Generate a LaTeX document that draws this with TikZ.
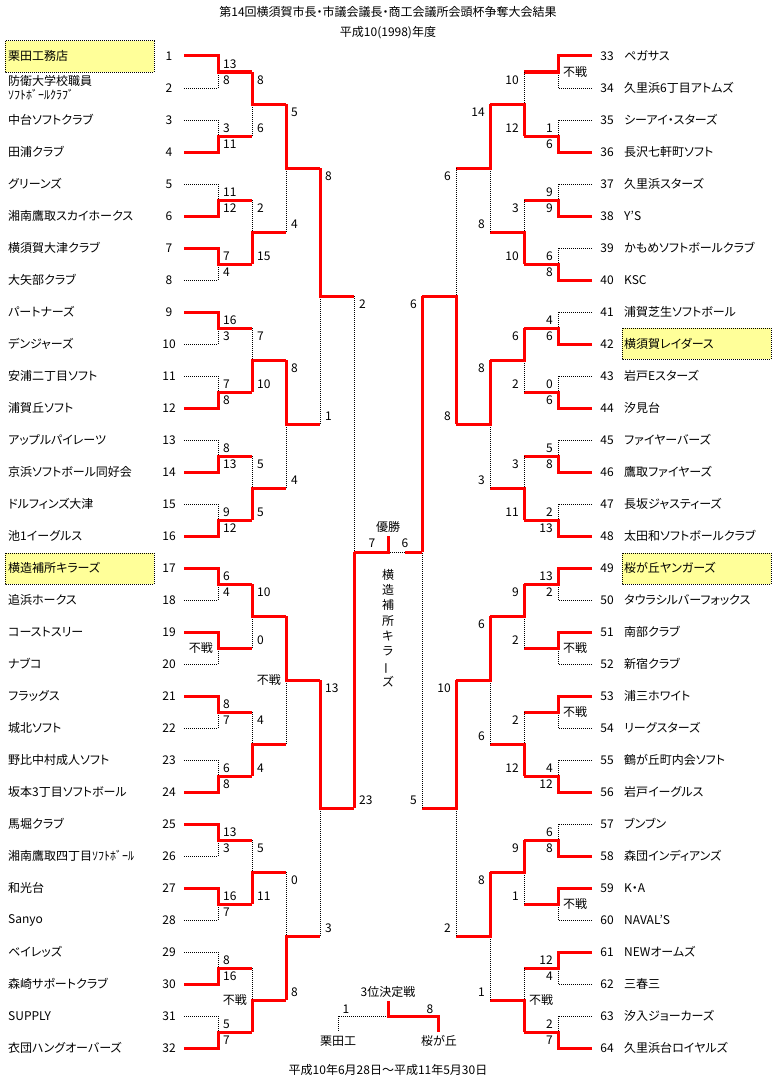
\documentclass[tikz,border=0pt]{standalone}
\usepackage{fontspec}
\setmainfont{Noto Sans CJK JP}[RawFeature=+palt]
\definecolor{bracketred}{RGB}{255,0,0}
\definecolor{seedyellow}{RGB}{255,255,153}
\tikzset{
  won/.style={draw=bracketred, line width=3pt},
  lost/.style={draw=black, line width=1pt, dash pattern=on 1pt off 1pt},
  seedbox/.style={fill=seedyellow, draw=black, line width=1pt, dash pattern=on 1pt off 1pt},
  jtext/.style={inner sep=0pt, font=\fontsize{12}{14}\selectfont},
  teamname/.style={jtext, anchor=west, align=left},
}
\begin{document}
\begin{tikzpicture}[x=1pt, y=-1pt]
\useasboundingbox (0,0) rectangle (777,1081);
% seeded teams
\foreach \bx/\by in {5/41, 5/553, 622/328, 622/553}
  \draw[seedbox] (\bx,\by) rectangle ++(149,31);
\node[jtext] (title) at (388,12) {第14回横須賀市長・市議会議長・商工会議所会頭杯争奪大会結果};
\node[jtext] (season) at (388,33) {平成10(1998)年度};
\node[jtext] (period) at (388,1070) {平成10年6月28日～平成11年5月30日};
% teams
\foreach \name [count=\i] in {栗田工務店, {防衛大学校職員\\ｿﾌﾄﾎﾞｰﾙｸﾗﾌﾞ}, 中台ソフトクラブ, 田浦クラブ,
  グリーンズ, 湘南鷹取スカイホークス, 横須賀大津クラブ, 大矢部クラブ,
  パートナーズ, デンジャーズ, 安浦二丁目ソフト, 浦賀丘ソフト,
  アップルパイレーツ, 京浜ソフトボール同好会, ドルフィンズ大津, 池1イーグルス,
  横造補所キラーズ, 追浜ホークス, コーストスリー, ナブコ,
  フラッグス, 城北ソフト, 野比中村成人ソフト, 坂本3丁目ソフトボール,
  馬堀クラブ, 湘南鷹取四丁目ｿﾌﾄﾎﾞｰﾙ, 和光台, Sanyo,
  ベイレッズ, 森崎サポートクラブ, SUPPLY, 衣団ハングオーバーズ}{
  \node[teamname] (t\i) at (8,{56+32*(\i-1)}) {\name};
  \node[jtext] (n\i) at (169,{56+32*(\i-1)}) {\i};
}
\foreach \name [count=\i] in {ペガサス, 久里浜6丁目アトムズ, シーアイ・スターズ, 長沢七軒町ソフト,
  久里浜スターズ, Y’S, かもめソフトボールクラブ, KSC,
  浦賀芝生ソフトボール, 横須賀レイダース, 岩戸Eスターズ, 汐見台,
  ファイヤーバーズ, 鷹取ファイヤーズ, 長坂ジャスティーズ, 太田和ソフトボールクラブ,
  桜が丘ヤンガーズ, タウラシルバーフォックス, 南部クラブ, 新宿クラブ,
  浦三ホワイト, リーグスターズ, 鶴が丘町内会ソフト, 岩戸イーグルス,
  ブンブン, 森団インディアンズ, K・A, NAVAL’S,
  NEWオームズ, 三春三, 汐入ジョーカーズ, 久里浜台ロイヤルズ}{
  \pgfmathtruncatemacro\tn{\i+32}
  \node[teamname] (t\tn) at (624,{56+32*(\i-1)}) {\name};
  \node[jtext] (n\tn) at (607,{56+32*(\i-1)}) {\tn};
}
% side/round/match/upper score/lower score/winner (0 upper, 1 lower); -1 = walkover
\foreach \sd/\rd/\mt/\ra/\rb/\w in {
  1/1/0/13/8/0, 1/1/1/3/11/1, 1/1/2/11/12/1, 1/1/3/7/4/0,
  1/1/4/16/3/0, 1/1/5/7/8/1, 1/1/6/8/13/1, 1/1/7/9/12/1,
  1/1/8/6/4/0, 1/1/9/-1/-1/0, 1/1/10/8/7/0, 1/1/11/6/8/1,
  1/1/12/13/3/0, 1/1/13/16/7/0, 1/1/14/8/16/1, 1/1/15/5/7/1,
  1/2/0/8/6/0, 1/2/1/2/15/1, 1/2/2/7/10/1, 1/2/3/5/5/1,
  1/2/4/10/0/0, 1/2/5/4/4/1, 1/2/6/5/11/1, 1/2/7/-1/-1/1,
  1/3/0/5/4/0, 1/3/1/8/4/0, 1/3/2/-1/-1/0, 1/3/3/0/8/1,
  1/4/0/8/1/0, 1/4/1/13/3/0, 1/5/0/2/23/1,
  -1/1/0/-1/-1/0, -1/1/1/1/6/1, -1/1/2/9/9/1, -1/1/3/6/8/1,
  -1/1/4/4/6/1, -1/1/5/0/6/1, -1/1/6/5/8/1, -1/1/7/2/13/1,
  -1/1/8/13/2/0, -1/1/9/-1/-1/0, -1/1/10/-1/-1/0, -1/1/11/4/12/1,
  -1/1/12/6/8/1, -1/1/13/-1/-1/0, -1/1/14/12/4/0, -1/1/15/2/7/1,
  -1/2/0/10/12/1, -1/2/1/3/10/1, -1/2/2/6/2/0, -1/2/3/3/11/1,
  -1/2/4/9/2/0, -1/2/5/2/12/1, -1/2/6/9/1/0, -1/2/7/-1/-1/1,
  -1/3/0/14/8/0, -1/3/1/8/3/0, -1/3/2/6/6/0, -1/3/3/8/1/0,
  -1/4/0/6/8/1, -1/4/1/10/2/0, -1/5/0/6/5/0}{
  \pgfmathsetmacro\xk{388-204*(\sd)+34*(\sd)*\rd}
  \pgfmathsetmacro\xn{\rd<5 ? \xk+34*(\sd) : \xk}
  \pgfmathsetmacro\xs{\rd==1 ? \xk-34*(\sd) : \xk}
  \pgfmathsetmacro\ya{56+32*(\mt*2^\rd+(2^(\rd-1)-1)/2)}
  \pgfmathsetmacro\yb{\ya+16*2^\rd}
  \pgfmathsetmacro\ym{\ya+8*2^\rd}
  \pgfmathsetmacro\wy{\w==0 ? \ya : \yb}
  \pgfmathsetmacro\ly{\w==0 ? \yb : \ya}
  \coordinate (ws) at (\xs,\wy);
  \coordinate (wv) at (\xk,\wy);
  \coordinate (ls) at (\xs,\ly);
  \coordinate (lv) at (\xk,\ly);
  \coordinate (um) at (\xk,\ym);
  \coordinate (un) at (\xn,\ym);
  \draw[lost] (ls) -- (lv) -- (um);
  \draw[won] (ws) -- (wv) -- (um) -- (un);
  \ifnum\sd>0 \def\scoreside{west}\def\woside{east}\else\def\scoreside{east}\def\woside{west}\fi
  \ifnum\ra<0
    \node[jtext, anchor=\woside] (wo) at ({\xk-5*(\sd)},\ym) {不戦};
  \else
    \node[jtext, anchor=\scoreside] (su) at ({\xk+5*(\sd)},{\ya+8}) {\ra};
    \node[jtext, anchor=\scoreside] (sl) at ({\xk+5*(\sd)},{\yb-8}) {\rb};
  \fi
}
% final
\coordinate (fl) at (354,552);
\coordinate (fc) at (388,552);
\coordinate (fh) at (405,552);
\coordinate (fr) at (422,552);
\coordinate (fu) at (388,536);
\draw[lost] (fh) -- (fc);
\draw[won] (fl) -- (fc) -- (fu);
\draw[won] (fr) -- (fh);
\node[jtext] (champ) at (388,527) {優勝};
\node[jtext] (fsl) at (372,543) {7};
\node[jtext] (fsr) at (405,543) {6};
\node[jtext, align=center, font=\fontsize{12}{15.3}\selectfont] (champname) at (388,628)
  {横\\造\\補\\所\\キ\\ラ\\\rotatebox[origin=c]{90}{ー}\\ズ};
% third place
\node[jtext] (third) at (388,992) {3位決定戦};
\node[jtext] (thirdA) at (338,1041) {栗田工};
\node[jtext] (thirdB) at (439,1041) {桜が丘};
\coordinate (tt) at (388,1001);
\coordinate (tm) at (388,1016);
\coordinate (tl) at (338,1016);
\coordinate (tr) at (438,1016);
\coordinate (tla) at (338,1032);
\coordinate (trb) at (438,1032);
\draw[lost] (tm) -- (tl) -- (tla);
\draw[won] (tt) -- (tm) -- (tr) -- (trb);
\node[jtext] (tsa) at (346,1009) {1};
\node[jtext] (tsb) at (430,1009) {8};
\end{tikzpicture}
\end{document}
